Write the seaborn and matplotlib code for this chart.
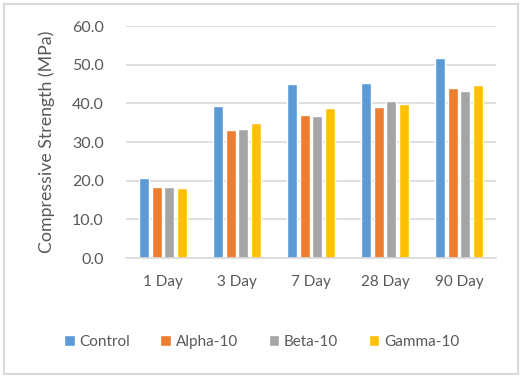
import matplotlib
matplotlib.use("Agg")
import matplotlib.pyplot as plt
import seaborn as sns
import pandas as pd
from matplotlib.patches import Rectangle

categories = ["1 Day", "3 Day", "7 Day", "28 Day", "90 Day"]
series_names = ["Control", "Alpha-10", "Beta-10", "Gamma-10"]
control = [20.7, 39.3, 45.0, 45.3, 51.7]
alpha10 = [18.4, 33.1, 37.0, 39.0, 44.0]
beta10 = [18.4, 33.4, 36.7, 40.6, 43.2]
gamma10 = [18.1, 34.9, 38.8, 39.8, 44.7]
yticks = [0, 10, 20, 30, 40, 50, 60]
colors = ["#5B9BD5", "#ED7D31", "#A5A5A5", "#FFC000"]

rows = []
for name, vals in zip(series_names, [control, alpha10, beta10, gamma10]):
    for c, v in zip(categories, vals):
        rows.append({"Age": c, "Series": name, "Strength": v})
df = pd.DataFrame(rows)

sns.set_theme(style="white")
plt.rcParams["font.family"] = ["Lato", "DejaVu Sans"]
txt = "#595959"

fig = plt.figure(figsize=(5.23, 3.81), dpi=100)
ax = fig.add_axes([126/523, 1-258/381, 370/523, 232/381])
sns.barplot(data=df, x="Age", y="Strength", hue="Series", order=categories,
            hue_order=series_names, palette=colors, width=0.68, gap=0.2,
            saturation=1, ax=ax, legend=True)

ax.set_ylim(0, 60)
ax.set_yticks(yticks)
ax.set_yticklabels([f"{t:.1f}" for t in yticks], color=txt, fontsize=11.5)
ax.tick_params(axis="x", colors=txt, labelsize=11, length=0, pad=12)
ax.tick_params(axis="y", length=0, pad=16)
ax.set_xlabel("")
ax.set_ylabel("Compressive Strength (MPa)", color=txt, fontsize=12.8, labelpad=12)
ax.yaxis.grid(True, color="#D9D9D9", linewidth=1.2)
ax.set_axisbelow(True)
for s in ["top", "right", "left"]:
    ax.spines[s].set_visible(False)
ax.spines["bottom"].set_color("#D9D9D9")
ax.spines["bottom"].set_linewidth(1.2)

handles, labels = ax.get_legend_handles_labels()
ax.get_legend().remove()
fig.legend(handles, labels, loc="center", bbox_to_anchor=(0.5, 1-342/381),
           ncol=4, frameon=False, fontsize=11, handlelength=0.7, handleheight=0.7,
           handletextpad=0.3, columnspacing=2.0, labelcolor=txt)

fig.patches.append(Rectangle((4/523, 1-374/381), 514/523, 370/381,
                             transform=fig.transFigure, fill=False,
                             edgecolor="#D9D9D9", linewidth=1.5))
fig.savefig("out.png", dpi=100)
